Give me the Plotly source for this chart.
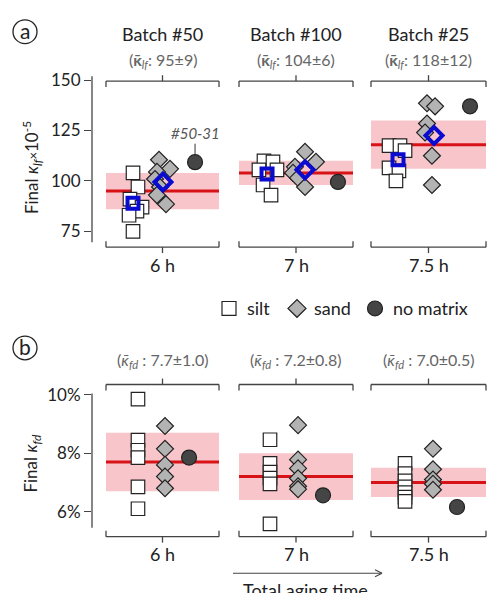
import plotly.graph_objects as go

W, H = 494, 593

# ---------------- data ----------------
groups = ["Batch #50", "Batch #100", "Batch #25"]
times = ["6 h", "7 h", "7.5 h"]
lf_mean = [95, 104, 118]
lf_sd = [9, 6, 12]
fd_mean = [7.7, 7.2, 7.0]
fd_sd = [1.0, 0.8, 0.5]

silt_lf = [[104, 97, 91, 87, 85, 83, 75],
           [110, 109.5, 105.5, 105.5, 98, 93],
           [117.5, 117.5, 115, 106.5, 105, 100]]
sand_lf = [[110.5, 106, 104.5, 101, 97, 93, 88.5],
           [114.5, 109.5, 107, 104, 101.5, 97],
           [138.5, 137, 128.5, 124, 112.5, 98]]
nomatrix_lf = [109.3, 99.5, 137]
silt_lf_avg = [89, 103.5, 110.5]
sand_lf_avg = [99.5, 105.5, 122.5]

silt_fd = [[9.85, 8.45, 8.1, 7.85, 6.85, 6.1],
           [8.46, 7.65, 7.35, 7.15, 6.95, 5.58],
           [7.65, 7.3, 7.05, 6.85, 6.65, 6.5, 6.35]]
sand_fd = [[8.93, 8.15, 7.6, 7.2, 6.8],
           [8.96, 7.78, 7.48, 7.14, 6.87, 6.77],
           [8.15, 7.45, 7.1, 6.95, 6.75]]
nomatrix_fd = [7.85, 6.56, 6.16]

# horizontal placement inside each group (0..1 across the group bracket)
silt_lf_pos = [[0.239, 0.283, 0.212, 0.319, 0.274, 0.204, 0.239],
               [0.219, 0.298, 0.175, 0.333, 0.211, 0.281],
               [0.157, 0.252, 0.296, 0.157, 0.243, 0.217]]
sand_lf_pos = [[0.469, 0.566, 0.451, 0.434, 0.478, 0.451, 0.531],
               [0.579, 0.675, 0.491, 0.474, 0.518, 0.579],
               [0.487, 0.557, 0.487, 0.470, 0.530, 0.530]]
avg_silt_pos = [0.239, 0.246, 0.235]
avg_sand_pos = [0.504, 0.579, 0.548]
nm_lf_pos = [0.788, 0.868, 0.861]
silt_fd_pos = [0.283, 0.272, 0.296]
sand_fd_pos = [0.522, 0.518, 0.539]
nm_fd_pos = [0.735, 0.737, 0.748]

# ---------------- styles ----------------
FONT = "Lato"
DARK = "#222"
AX = "#444"
SILT = dict(symbol="square", size=13.5, color="white", line=dict(color="#222", width=1.2))
SAND = dict(symbol="diamond", size=13, color="#b3b3b3", line=dict(color="#222", width=1.2))
NOM = dict(symbol="circle", size=15, color="#454545", line=dict(color="#222", width=1.2))
BLUE = "#0a0ad0"
BAND = "#f8c5ca"
RED = "#d81318"


def px(xp):
    return xp / W


def py(yp):
    return 1 - yp / H


xpx = [(106, 219), (239, 353), (371, 486)]
YAX_X = 92
br_a = (75, 243)
br_b = (382, 536)
dom_a = (70, 243)
dom_b = (382, 536)
yrange_a = [67.2, 151.95]
yrange_b = [5.145, 10.35]

fig = go.Figure()
shapes = []
annotations = []
layout = dict(width=W, height=H, margin=dict(l=0, r=0, t=0, b=0),
              paper_bgcolor="white", plot_bgcolor="rgba(0,0,0,0)", showlegend=False,
              font=dict(family=FONT, color=DARK))


def seg(x0, y0, x1, y1, w=1.3):
    shapes.append(dict(type="line", xref="paper", yref="paper", x0=px(x0), x1=px(x1),
                       y0=py(y0), y1=py(y1), line=dict(color=AX, width=w)))


def text(x, y, t, size=17, color=DARK, xanchor="center", yanchor="middle", **kw):
    d = dict(xref="paper", yref="paper", x=px(x), y=py(y), text=t, showarrow=False,
             xanchor=xanchor, yanchor=yanchor, font=dict(size=size, color=color, family=FONT))
    d.update(kw)
    annotations.append(d)


for panel in range(2):
    ytop, ybot = br_a if panel == 0 else br_b
    dtop, dbot = dom_a if panel == 0 else dom_b
    for i in range(3):
        k = panel * 3 + i + 1
        xn = "xaxis" if k == 1 else f"xaxis{k}"
        yn = "yaxis" if k == 1 else f"yaxis{k}"
        xr = "x" if k == 1 else f"x{k}"
        yr = "y" if k == 1 else f"y{k}"
        x0, x1 = xpx[i]
        span = x1 - x0
        if i == 0:
            dom = [px(YAX_X), px(x1)]
            rng = [-(x0 - YAX_X) / span, 1]
        else:
            dom = [px(x0), px(x1)]
            rng = [0, 1]
        layout[xn] = dict(domain=dom, range=rng, anchor=yr, showline=False, ticks="",
                          showticklabels=False, showgrid=False, zeroline=False, fixedrange=True)
        ycfg = dict(domain=[py(dbot), py(dtop)],
                    range=yrange_a if panel == 0 else yrange_b,
                    anchor=xr, showgrid=False, zeroline=False, fixedrange=True)
        if i == 0:
            ycfg.update(showline=False, ticks="outside", ticklen=7, tickwidth=1.3, tickcolor=AX,
                        tickfont=dict(size=17, color=DARK, family=FONT))
            if panel == 0:
                ycfg.update(tickvals=[75, 100, 125, 150], ticktext=["75", "100", "125", "150"])
            else:
                ycfg.update(tickvals=[6, 8, 10], ticktext=["6%", "8%", "10%"])
        else:
            ycfg.update(visible=False)
        layout[yn] = ycfg

        # brackets (top and bottom)
        xc = (x0 + x1) / 2
        seg(x0, ytop, x1, ytop)
        seg(x0, ytop, x0, ytop + 6)
        seg(x1, ytop, x1, ytop + 6)
        seg(xc, ytop, xc, ytop - 6)
        seg(x0, ybot, x1, ybot)
        seg(x0, ybot, x0, ybot - 6)
        seg(x1, ybot, x1, ybot - 6)
        seg(xc, ybot, xc, ybot + 6)
        text(xc, ybot + 18, times[i], size=18)

        mean = lf_mean[i] if panel == 0 else fd_mean[i]
        sd = lf_sd[i] if panel == 0 else fd_sd[i]
        shapes.append(dict(type="rect", xref=xr, yref=yr, x0=0, x1=1,
                           y0=mean - sd, y1=mean + sd, fillcolor=BAND, line=dict(width=0),
                           layer="below"))
        shapes.append(dict(type="line", xref=xr, yref=yr, x0=0, x1=1,
                           y0=mean, y1=mean, line=dict(color=RED, width=3), layer="below"))

        if panel == 0:
            fig.add_trace(go.Scatter(x=silt_lf_pos[i], y=silt_lf[i], mode="markers",
                                     marker=SILT, xaxis=xr, yaxis=yr))
            fig.add_trace(go.Scatter(x=sand_lf_pos[i], y=sand_lf[i], mode="markers",
                                     marker=SAND, xaxis=xr, yaxis=yr))
            fig.add_trace(go.Scatter(x=[nm_lf_pos[i]], y=[nomatrix_lf[i]], mode="markers",
                                     marker=NOM, xaxis=xr, yaxis=yr))
            fig.add_trace(go.Scatter(x=[avg_silt_pos[i]], y=[silt_lf_avg[i]], mode="markers",
                                     marker=dict(symbol="square-open", size=11, color=BLUE,
                                                 line=dict(width=4, color=BLUE)),
                                     xaxis=xr, yaxis=yr))
            fig.add_trace(go.Scatter(x=[avg_sand_pos[i]], y=[sand_lf_avg[i]], mode="markers",
                                     marker=dict(symbol="diamond-open", size=13, color=BLUE,
                                                 line=dict(width=4, color=BLUE)),
                                     xaxis=xr, yaxis=yr))
        else:
            fig.add_trace(go.Scatter(x=[silt_fd_pos[i]] * len(silt_fd[i]), y=silt_fd[i],
                                     mode="markers", marker=SILT, xaxis=xr, yaxis=yr))
            fig.add_trace(go.Scatter(x=[sand_fd_pos[i]] * len(sand_fd[i]), y=sand_fd[i],
                                     mode="markers", marker=SAND, xaxis=xr, yaxis=yr))
            fig.add_trace(go.Scatter(x=[nm_fd_pos[i]], y=[nomatrix_fd[i]], mode="markers",
                                     marker=NOM, xaxis=xr, yaxis=yr))

# y axis lines
seg(YAX_X, 70, YAX_X, 238)
seg(YAX_X, 391, YAX_X, 527)

# headers
centers = [162.5, 296, 428.5]
for i in range(3):
    text(centers[i], 27, groups[i], size=18)
    text(centers[i], 54, f"(<b>κ̄</b><sub><i>lf</i></sub>: {lf_mean[i]}±{lf_sd[i]})",
         size=16, color="#666")
    text(centers[i], 358, f"(<i>κ̄</i><sub><i>fd</i></sub> : {fd_mean[i]:.1f}±{fd_sd[i]:.1f})",
         size=16, color="#666")

# outlier label
annotations.append(dict(xref="x", yref="y", x=nm_lf_pos[0], y=nomatrix_lf[0],
                        text="<i>#50-31</i>", showarrow=True, arrowhead=0, arrowwidth=1,
                        arrowcolor="#333", ax=0, ay=-29, standoff=8,
                        xanchor="center", yanchor="middle",
                        font=dict(size=15, color="#555", family=FONT)))

# y titles
text(32, 163, "Final <i>κ</i><sub><i>lf</i></sub><span style='font-size:13px'>×</span>10<sup>-5</sup>",
     textangle=-90)
text(32, 462, "Final <i>κ</i><sub><i>fd</i></sub>", textangle=-90)

# panel letters
for lab, cy in (("a", 25), ("b", 345)):
    shapes.append(dict(type="circle", xref="paper", yref="paper", x0=px(13), x1=px(37),
                       y0=py(cy + 12), y1=py(cy - 12), line=dict(color=DARK, width=1.3)))
    text(25, cy - 1, lab, size=21)

# legend (manual, drawn as shapes)
LY = 305
shapes.append(dict(type="rect", xref="paper", yref="paper", x0=px(222), x1=px(236),
                   y0=py(LY + 7), y1=py(LY - 7), fillcolor="white",
                   line=dict(color="#222", width=1.2)))
dx, dy = 297, LY
shapes.append(dict(type="path", xref="paper", yref="paper",
                   path=(f"M {px(dx - 9)},{py(dy)} L {px(dx)},{py(dy - 9)} "
                         f"L {px(dx + 9)},{py(dy)} L {px(dx)},{py(dy + 9)} Z"),
                   fillcolor="#b3b3b3", line=dict(color="#222", width=1.2)))
shapes.append(dict(type="circle", xref="paper", yref="paper", x0=px(367.5), x1=px(382.5),
                   y0=py(LY + 7.5), y1=py(LY - 7.5), fillcolor="#454545",
                   line=dict(color="#222", width=1.2)))
for n, tx in zip(["silt", "sand", "no matrix"], [245, 312, 391]):
    text(tx, LY, n, size=18, xanchor="left")

# total aging time arrow
seg(233, 573, 382, 573, 1.2)
seg(375, 569.5, 382, 573, 1.2)
seg(375, 576.5, 382, 573, 1.2)
text(305, 577, "Total aging time", size=18, yanchor="top")

layout["shapes"] = shapes
layout["annotations"] = annotations
fig.update_layout(**layout)
fig.write_html("out.html", config={"displayModeBar": False},
               post_script="document.body.style.margin='0px';")
